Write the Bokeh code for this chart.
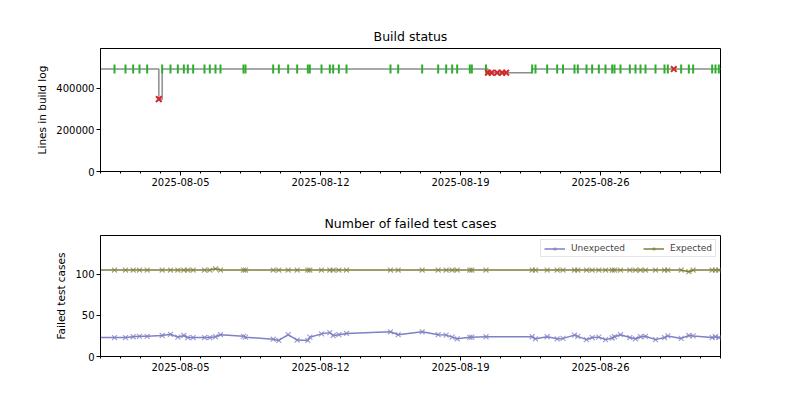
import numpy as np
import pandas as pd
from bokeh.plotting import figure
from bokeh.layouts import column
from bokeh.models import (Range1d, FixedTicker, DatetimeTickFormatter,
                          BasicTickFormatter, Legend, LegendItem)
from bokeh.embed import file_html
from bokeh.resources import INLINE

# ---------------- data ----------------
ok_times = [
    "2025-07-31 18:00", "2025-08-01 16:48", "2025-08-02 06:00", "2025-08-02 15:12", "2025-08-02 22:48",
    "2025-08-03 08:00", "2025-08-04 02:00", "2025-08-04 12:00", "2025-08-04 20:48", "2025-08-05 04:00",
    "2025-08-05 08:48", "2025-08-05 15:12", "2025-08-06 04:48", "2025-08-06 11:12", "2025-08-06 18:00",
    "2025-08-07 00:00", "2025-08-08 03:36", "2025-08-08 06:00", "2025-08-09 15:12", "2025-08-09 22:00",
    "2025-08-10 09:12", "2025-08-10 20:00", "2025-08-11 08:48", "2025-08-11 11:12", "2025-08-12 01:12",
    "2025-08-12 11:12", "2025-08-12 15:12", "2025-08-12 22:00", "2025-08-13 07:12", "2025-08-15 12:00",
    "2025-08-15 21:12", "2025-08-17 02:00", "2025-08-17 21:12", "2025-08-18 06:48", "2025-08-18 14:00",
    "2025-08-18 20:00", "2025-08-19 11:12", "2025-08-19 13:36", "2025-08-20 06:36", "2025-08-22 14:00",
    "2025-08-22 18:00", "2025-08-23 08:00", "2025-08-23 20:00", "2025-08-24 03:00", "2025-08-24 16:48",
    "2025-08-24 20:48", "2025-08-25 07:12", "2025-08-25 14:00", "2025-08-25 22:00", "2025-08-26 06:00",
    "2025-08-26 14:00", "2025-08-26 16:48", "2025-08-27 00:00", "2025-08-27 11:12", "2025-08-27 18:00",
    "2025-08-28 00:00", "2025-08-28 06:00", "2025-08-28 18:00", "2025-08-29 04:48", "2025-08-29 08:48",
    "2025-08-30 00:48", "2025-08-30 10:00", "2025-08-30 15:12", "2025-08-31 14:00", "2025-08-31 18:00",
    "2025-08-31 22:00", "2025-09-01 04:00",
]
ok_lines = [
    491500, 491500, 491500, 491500, 491500, 491500, 491500, 491500, 491500, 491500,
    491500, 491500, 491500, 491500, 491500, 491500, 491500, 491500, 491500, 491500,
    491500, 491500, 491500, 491500, 491500, 491500, 491500, 491500, 491500, 491500,
    491500, 491500, 491500, 491500, 491500, 491500, 491500, 491500, 491500, 491500,
    491500, 491500, 491500, 491500, 491500, 491500, 491500, 491500, 491500, 491500,
    491500, 491500, 491500, 491500, 491500, 491500, 491500, 491500, 491500, 491500,
    491500, 491500, 491500, 491500, 491500, 491500, 491500,
]
unexpected = [
    23, 23, 23, 24, 24.5, 24.5, 25.5, 27, 23.5, 25.5,
    23, 23, 23, 23, 24, 26.5, 24.5, 23.5, 21, 19.5,
    26.5, 20, 19.5, 23.5, 27.5, 29, 25.5, 26.5, 28, 30,
    26.5, 30, 26.5, 26, 23.5, 21.5, 23.3, 23.5, 24, 24,
    21.5, 24, 21.5, 22, 26, 24.5, 20.5, 23, 23.5, 20.5,
    22.5, 24, 26.5, 23, 21.5, 24, 24.5, 20.5, 23, 25,
    22, 25.5, 25, 23, 24, 23, 24,
]
expected = [
    105, 105, 105, 105, 105, 105, 105, 105, 105, 105,
    105, 105, 105, 105, 106.5, 105, 105, 105, 105, 105,
    105, 105, 105, 105, 105, 105, 105, 105, 105, 105,
    105, 105, 105, 105, 105, 105, 105, 105, 105, 105,
    105, 105, 105, 105, 105, 105, 105, 105, 105, 105,
    105, 105, 105, 105, 105, 105, 105, 105, 105, 105,
    105, 103, 105, 105, 105, 105, 105,
]
fail_times = ["2025-08-03 22:00", "2025-08-20 09:00", "2025-08-20 13:12", "2025-08-20 20:00",
              "2025-08-21 02:00", "2025-08-21 06:48", "2025-08-29 16:00"]
fail_lines = [347000, 474000, 474000, 474000, 474000, 474000, 491500]

x_start, x_end = "2025-08-01", "2025-09-01"
major_tick_dates = ["2025-08-05", "2025-08-12", "2025-08-19", "2025-08-26"]
top_yticks = [0, 200000, 400000]
bottom_yticks = [0, 50, 100]
top_ymax = 590000
bottom_ymax = 147

# ---------------- prep ----------------
okt = pd.to_datetime(ok_times)
ft = pd.to_datetime(fail_times)
all_df = pd.DataFrame({"t": list(okt) + list(ft), "v": ok_lines + fail_lines}).sort_values("t")

def ms(ts):
    return pd.Timestamp(ts).value / 1e6

major = [ms(d) for d in major_tick_dates]
minor = [ms(d) for d in pd.date_range(x_start, x_end, freq="D")]

FONT = "DejaVu Sans"

def style(p, yticks):
    p.xgrid.visible = False
    p.ygrid.visible = False
    p.outline_line_color = "black"
    p.outline_line_alpha = 1.0
    p.outline_line_width = 1
    p.title.align = "center"
    p.title.text_font = FONT
    p.title.text_font_size = "12.5px"
    p.title.text_font_style = "normal"
    p.title.text_color = "black"
    p.xaxis.ticker = FixedTicker(ticks=major, minor_ticks=minor)
    p.xaxis.formatter = DatetimeTickFormatter(
        milliseconds="%Y-%m-%d", seconds="%Y-%m-%d", minsec="%Y-%m-%d", minutes="%Y-%m-%d",
        hourmin="%Y-%m-%d", hours="%Y-%m-%d", days="%Y-%m-%d", months="%Y-%m-%d", years="%Y-%m-%d")
    p.yaxis.ticker = FixedTicker(ticks=yticks)
    p.yaxis.formatter = BasicTickFormatter(use_scientific=False)
    for ax in (p.xaxis[0], p.yaxis[0]):
        ax.axis_line_color = "black"
        ax.major_tick_line_color = "black"
        ax.major_tick_out = 4
        ax.major_tick_in = 0
        ax.minor_tick_line_color = "black"
        ax.minor_tick_out = 2
        ax.minor_tick_in = 0
        ax.major_label_text_font = FONT
        ax.major_label_text_font_size = "10px"
        ax.major_label_text_color = "black"
        ax.major_label_standoff = 2
        ax.axis_label_text_font = FONT
        ax.axis_label_text_font_size = "10.5px"
        ax.axis_label_text_font_style = "normal"
        ax.axis_label_text_color = "black"
    p.yaxis.minor_tick_line_color = None

# ---------------- top: build status ----------------
p1 = figure(width=792, height=208, x_axis_type="datetime",
            x_range=Range1d(pd.Timestamp(x_start), pd.Timestamp(x_end)),
            y_range=Range1d(0, top_ymax), title="Build status",
            output_backend="svg", toolbar_location=None,
            min_border_left=100, min_border_right=72, min_border_top=48, min_border_bottom=37)
style(p1, top_yticks)
p1.yaxis.axis_label = "Lines in build log"
p1.step(all_df["t"], all_df["v"], mode="after", line_color="#808080", line_width=1.5, line_alpha=0.9)
p1.scatter(okt, ok_lines, marker="dash", angle=np.pi / 2, size=9,
           line_color="#2cb02c", line_width=2)
p1.scatter(ft, fail_lines, marker="x", size=8, line_color="#d62728", line_width=2)

# ---------------- bottom: failed test cases ----------------
p2 = figure(width=792, height=176, x_axis_type="datetime",
            x_range=p1.x_range, y_range=Range1d(0, bottom_ymax),
            title="Number of failed test cases",
            output_backend="svg", toolbar_location=None,
            min_border_left=100, min_border_right=72, min_border_top=25, min_border_bottom=28)
style(p2, bottom_yticks)
p2.yaxis.axis_label = "Failed test cases"
u_col, e_col = "#8080c4", "#7f7f3c"
r1 = p2.line(okt, unexpected, line_color=u_col, line_width=1.5)
r1m = p2.scatter(okt, unexpected, marker="x", size=7, line_color=u_col, line_alpha=0.75, line_width=1.2)
r2 = p2.line(okt, expected, line_color=e_col, line_width=1.5)
r2m = p2.scatter(okt, expected, marker="x", size=7, line_color=e_col, line_alpha=0.7, line_width=1.2)

legend = Legend(items=[LegendItem(label="Unexpected", renderers=[r1, r1m]),
                       LegendItem(label="Expected", renderers=[r2, r2m])],
                location="top_right", orientation="horizontal")
legend.label_text_font = FONT
legend.label_text_font_size = "9px"
legend.label_height = 9
legend.glyph_width = 21
legend.glyph_height = 9
legend.padding = 3
legend.spacing = 18
legend.margin = 4
legend.label_standoff = 6
legend.border_line_color = "#cccccc"
legend.background_fill_alpha = 0.85
p2.add_layout(legend)

layout = column(p1, p2)
open("out.html", "w").write(file_html(layout, INLINE))
